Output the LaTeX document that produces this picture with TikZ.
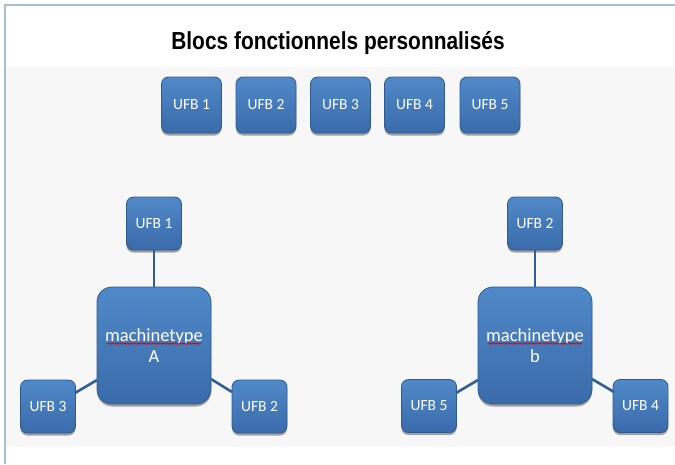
\documentclass[tikz,border=0pt]{standalone}
\usepackage{fontspec}
\setmainfont{Carlito}
\newfontfamily\titlefont{Liberation Sans}
\usetikzlibrary{shadows,decorations.pathmorphing}
\definecolor{frameline}{HTML}{A9BCD0}
\definecolor{panelgray}{HTML}{F7F7F7}
\definecolor{boxtop}{HTML}{5089C9}
\definecolor{boxbot}{HTML}{3A6BAA}
\definecolor{boxedge}{HTML}{2E5A8E}
\definecolor{linkcol}{HTML}{2F5F94}
\tikzset{
  ufb/.style={rounded corners=7pt, draw=boxedge, line width=0.8pt,
    top color=boxtop, bottom color=boxbot, text=white,
    minimum width=55pt, minimum height=53pt, inner sep=0pt,
    font=\fontsize{15.5}{16}\selectfont,
    drop shadow={shadow xshift=0pt, shadow yshift=-2.5pt, opacity=0.35, fill=black}},
  topufb/.style={ufb, minimum width=60pt, minimum height=56pt},
  machine/.style={ufb, rounded corners=15pt, minimum width=114pt, minimum height=117pt,
    align=center, font=\fontsize{18.5}{21}\selectfont},
  link/.style={draw=linkcol, line width=2.6pt},
  squiggle/.style={draw=red!85!black, line width=0.6pt,
    decorate, decoration={snake, amplitude=0.8pt, segment length=2.5pt}}
}
\begin{document}
\begin{tikzpicture}[x=1pt,y=-1pt]
\useasboundingbox (0,0) rectangle (675,464);
\fill[white] (0,0) rectangle (675,464);
\fill[panelgray] (6,67) rectangle (675,447);
\draw[frameline, line width=1.5pt] (5,464) -- (5,5) -- (675,5);
\node[font=\titlefont\bfseries\fontsize{22}{24}\selectfont, xscale=0.95, yscale=1.12] (title) at (338,43) {Blocs fonctionnels personnalisés};
% top row
\node[topufb] (t1) at (191.5,105) {UFB 1};
\node[topufb] (t2) at (266,105) {UFB 2};
\node[topufb] (t3) at (340.5,105) {UFB 3};
\node[topufb] (t4) at (414.5,105) {UFB 4};
\node[topufb] (t5) at (490,105) {UFB 5};
% left group
\node[ufb] (a1) at (154,223.5) {UFB 1};
\node[ufb] (a3) at (48,406.5) {UFB 3};
\node[ufb] (a2) at (259.5,406.5) {UFB 2};
\draw[link] (a1.south) -- (154,287);
\draw[link] (75,393) -- (97,380);
\draw[link] (211,379) -- (232,392);
\node[machine] (ma) at (154,345.5) {machinetype\\A};
\draw[squiggle] ([xshift=-47pt,yshift=2pt]ma.center) -- ([xshift=47pt,yshift=2pt]ma.center);
% right group
\node[ufb] (b2) at (535,223.5) {UFB 2};
\node[ufb] (b5) at (429,406) {UFB 5};
\node[ufb] (b4) at (640.5,406) {UFB 4};
\draw[link] (b2.south) -- (535,287);
\draw[link] (456,393) -- (478,380);
\draw[link] (592,379) -- (614,392);
\node[machine] (mb) at (535,345.5) {machinetype\\b};
\draw[squiggle] ([xshift=-47pt,yshift=2pt]mb.center) -- ([xshift=47pt,yshift=2pt]mb.center);
\end{tikzpicture}
\end{document}
